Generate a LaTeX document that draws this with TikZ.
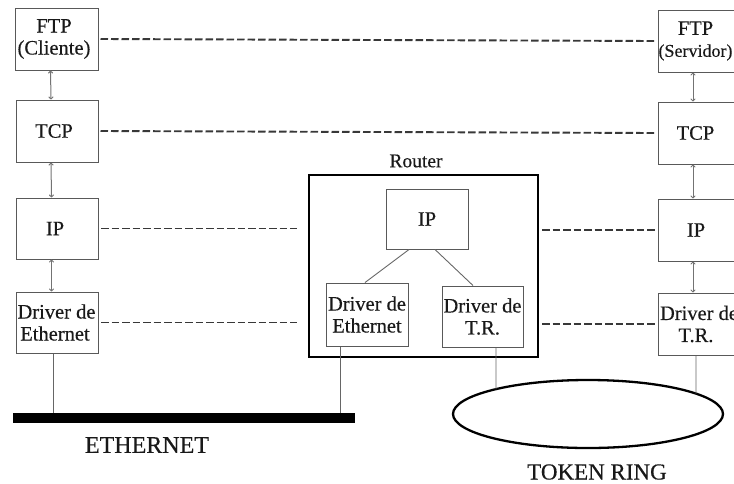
\documentclass[tikz,border=0pt]{standalone}
\usepackage{fontspec}
\setmainfont{Liberation Serif}
\newfontfamily\heavyserif[FakeBold=0.4]{Liberation Serif}
\usetikzlibrary{arrows.meta,calc,intersections}
\begin{document}
\begin{tikzpicture}[x=1pt,y=-1pt,
  layer/.style={draw=black!65,line width=1pt,minimum width=82pt,minimum height=62pt,
    inner sep=0pt,align=center,text=black!90,font=\heavyserif\fontsize{20.5}{22}\selectfont},
  peer/.style={dashed,dash pattern=on 7.5pt off 3pt,line width=1.9pt,draw=black!78},
  updown/.style={draw=black!55,line width=1pt,{To[length=3pt,width=5pt]}-{To[length=3pt,width=5pt]}},
  tap/.style={draw=black!60,line width=0.9pt},
  lbl/.style={text=black!90,inner sep=0pt}]
\useasboundingbox (0,0) rectangle (734,483);
\clip (0,0) rectangle (734,483);

% client host stack
\node[layer,minimum width=83pt] (ftpc) at (56.5,39) {FTP\hspace*{5pt}\\(Cliente)\hspace*{5pt}};
\node[layer] (tcpc) at (57,131) {TCP\hspace*{6pt}};
\node[layer,minimum height=61pt] (ipc) at (57.5,228.5) {IP\hspace*{5pt}};
\node[layer,minimum height=61pt] (drvc) at (57.5,322.5) {Driver de\hspace*{2pt}\\Ethernet\hspace*{5pt}};

% server host stack (runs past the right edge)
\node[layer] (ftps) at (699,41) {FTP\hspace*{7pt}\\{\fontsize{18}{20}\selectfont(Servidor)}\hspace*{7pt}};
\node[layer] (tcps) at (699,133) {TCP\hspace*{7pt}};
\node[layer] (ips) at (699,230) {IP\hspace*{6pt}};
\node[layer] (drvs) at (699,324) {Driver de\\T.R.\hspace*{6pt}};

% router
\node[draw=black,line width=2.4pt,minimum width=229pt,minimum height=182pt,inner sep=0pt] (router) at (423.5,266) {};
\node[lbl,font=\heavyserif\fontsize{19.5}{21}\selectfont] (rlabel) at (416,161) {Router};
\node[layer,minimum height=60pt] (rip) at (427,219) {IP};
\node[layer,minimum height=63pt] (rde) at (367,314.5) {Driver de\\Ethernet};
\node[layer,minimum width=81pt,minimum height=61pt] (rtr) at (482.5,316.5) {Driver de\\T.R.};
\draw[tap] ($(rip.south)+(-18,0)$) -- ($(rde.north)+(-2,0)$);
\draw[tap] ($(rip.south)+(8,0)$) -- ($(rtr.north)+(-9.5,0)$);

% vertical links inside each host
\foreach \a/\b in {ftpc/tcpc,tcpc/ipc,ipc/drvc,ftps/tcps,tcps/ips,ips/drvs}
  \draw[updown] ([xshift=-6pt]\a.south) -- ([xshift=-6pt]\b.north);

% peer-to-peer dashed links
\draw[peer] ([xshift=2pt]ftpc.east) -- ([xshift=-2pt]ftps.west);
\draw[peer] ([xshift=2pt]tcpc.east) -- ([xshift=-2pt]tcps.west);
\coordinate (ipl) at ($(router.west |- ipc.east)+(-11,0)$);
\coordinate (ipr) at ($(router.east |- ips.west)+(3,0)$);
\coordinate (dvl) at ($(router.west |- drvc.east)+(-11,0)$);
\coordinate (dvr) at ($(router.east |- drvs.west)+(3,0)$);
\draw[peer] ([xshift=2pt]ipc.east) -- (ipl);
\draw[peer] (ipr) -- ([xshift=-2pt]ips.west);
\draw[peer] ([xshift=2pt]drvc.east) -- (dvl);
\draw[peer] (dvr) -- ([xshift=-2pt]drvs.west);

% Ethernet bus
\node[fill=black,minimum width=342pt,minimum height=10pt,inner sep=0pt] (bus) at (184,418) {};
\node[lbl,font=\heavyserif\fontsize{24}{26}\selectfont] (ethl) at (147,445) {ETHERNET};
\draw[tap] ([xshift=-4pt]drvc.south) -- ([xshift=-4pt]drvc.south |- bus.north);
\draw[tap] ([xshift=-27pt]rde.south) -- ([xshift=-27pt]rde.south |- bus.north);

% Token ring
\draw[name path=ring,line width=2.3pt] (588,414) ellipse [x radius=135,y radius=34];
\node[lbl,font=\heavyserif\fontsize{23}{25}\selectfont] (trl) at (597,472) {TOKEN RING};
\path[name path=tapa] ([xshift=13.5pt]rtr.south) -- ++(0,80);
\path[name path=tapb] ([xshift=-3pt]drvs.south) -- ++(0,80);
\path[name intersections={of=tapa and ring,sort by=tapa,name=ia}];
\path[name intersections={of=tapb and ring,sort by=tapb,name=ib}];
\draw[tap] ([xshift=13.5pt]rtr.south) -- (ia-1);
\draw[tap] ([xshift=-3pt]drvs.south) -- (ib-1);
\end{tikzpicture}
\end{document}
